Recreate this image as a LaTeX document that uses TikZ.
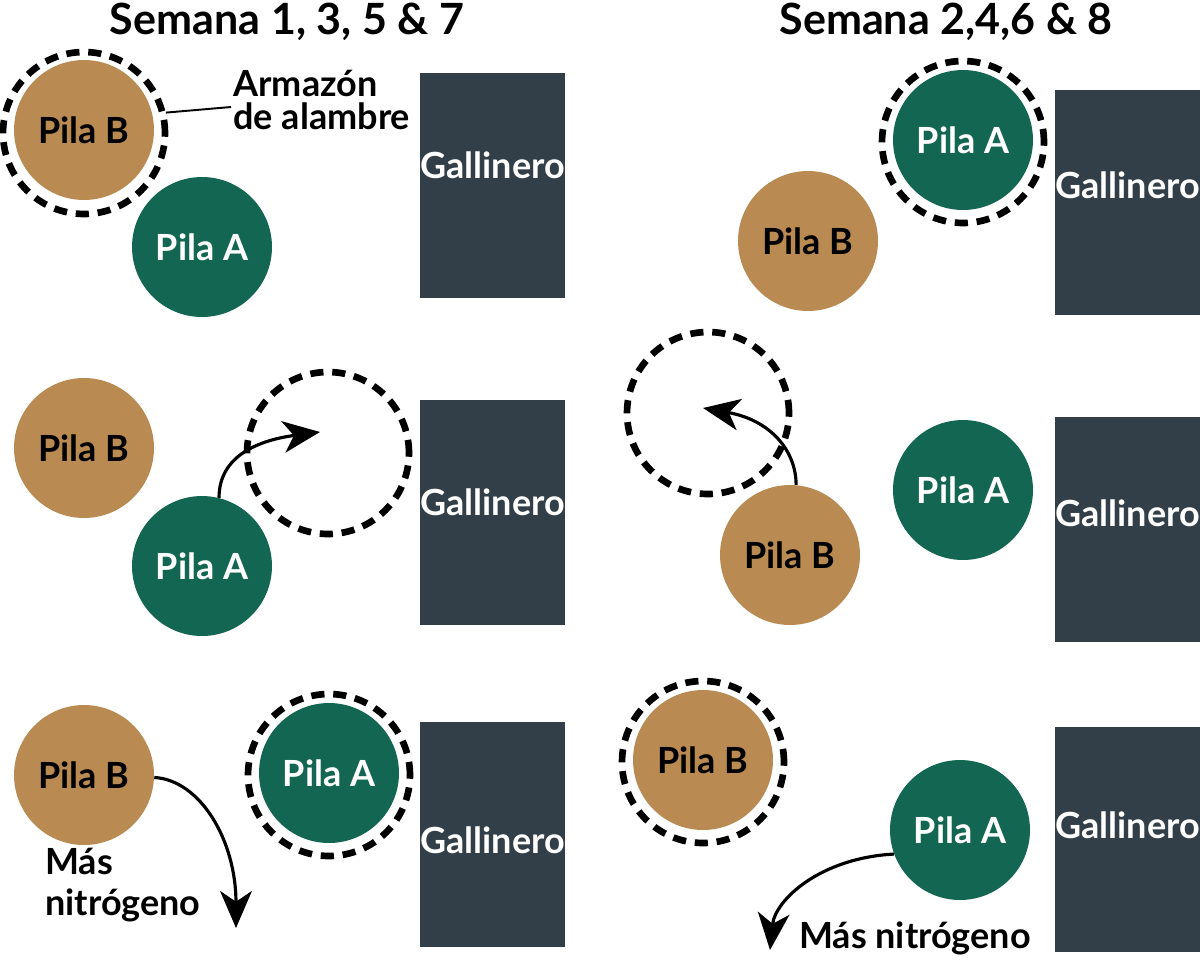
\documentclass[tikz,border=0pt]{standalone}
\usepackage{fontspec}
\setmainfont{Lato}
\usetikzlibrary{arrows.meta}
\definecolor{brownpile}{HTML}{B98A52}
\definecolor{greenpile}{HTML}{136651}
\definecolor{coop}{HTML}{333F48}
\begin{document}
\begin{tikzpicture}[x=0.02cm,y=-0.02cm,
  txt/.style={font=\fontsize{20.5}{23}\selectfont\bfseries},
  pileB/.style={circle,fill=brownpile,minimum size=2.8cm,inner sep=0pt,txt,text=black},
  pileA/.style={circle,fill=greenpile,minimum size=2.8cm,inner sep=0pt,txt,text=white},
  wire/.style={circle,draw=black,line width=3.8pt,dash pattern=on 7.5pt off 5pt,minimum size=3.24cm,inner sep=0pt},
  coopbox/.style={rectangle,fill=coop,minimum width=2.9cm,minimum height=4.5cm,inner sep=0pt},
  cooplabel/.style={txt,text=white,inner sep=0pt},
  arr/.style={line width=1.8pt,-{Stealth[length=21pt,width=18pt,inset=6pt]}},
  titletxt/.style={font=\fontsize{24.5}{28}\selectfont\bfseries},
  lbl/.style={txt,align=left,inner sep=0pt},
]
\useasboundingbox (0,0) rectangle (1200,965);

% titles
\node[titletxt] (t1) at (287,22) {Semana 1, 3, 5 \& 7};
\node[titletxt] (t2) at (946,22) {Semana 2,4,6 \& 8};

% ---------- panel 1 ----------
\node[coopbox,anchor=north west] (g1) at (420,73) {};
\node[cooplabel] (g1t) at (492.5,165) {Gallinero};
\node[wire] (w1) at (84,133) {};
\node[pileB] (b1) at (84,130) {Pila B};
\node[pileA] (a1) at (202,247) {Pila A};
\node[lbl,anchor=west] (arm) at (233,100) {Armazón\\[-4pt]de alambre};
\coordinate (armend) at (231,107);
\draw[line width=1.1pt] (w1.14) -- (armend);

% ---------- panel 2 ----------
\node[coopbox,anchor=north west] (g2) at (1055,90) {};
\node[cooplabel] (g2t) at (1127.5,185) {Gallinero};
\node[wire] (w2) at (963,142) {};
\node[pileA] (a2) at (963,140) {Pila A};
\node[pileB] (b2) at (808,241) {Pila B};

% ---------- panel 3 ----------
\node[coopbox,anchor=north west] (g3) at (420,400) {};
\node[cooplabel] (g3t) at (492.5,502) {Gallinero};
\node[pileB] (b3) at (84,448) {Pila B};
\node[pileA] (a3) at (202,566) {Pila A};
\node[wire] (w3) at (328,453) {};
\coordinate (t3) at (320,432);
\draw[arr] (a3.76) .. controls (219,455) and (260,440) .. (t3);

% ---------- panel 4 ----------
\node[coopbox,anchor=north west] (g4) at (1055,417) {};
\node[cooplabel] (g4t) at (1127.5,513) {Gallinero};
\node[wire] (w4) at (708,413) {};
\node[pileB] (b4) at (790,555) {Pila B};
\node[pileA] (a4) at (963,490) {Pila A};
\coordinate (t4) at (703,408);
\draw[arr] (b4.85) .. controls (796,450) and (770,420) .. (t4);

% ---------- panel 5 ----------
\node[coopbox,anchor=north west] (g5) at (420,722) {};
\node[cooplabel] (g5t) at (492.5,840) {Gallinero};
\node[pileB] (b5) at (84,775) {Pila B};
\node[wire] (w5) at (329,775) {};
\node[pileA] (a5) at (329,773) {Pila A};
\coordinate (t5) at (236,928);
\draw[arr] (b5.-2) .. controls (200,780) and (236,840) .. (t5);
\node[lbl,anchor=west] (n5) at (45,885) {Más\\[0pt]nitrógeno};

% ---------- panel 6 ----------
\node[coopbox,anchor=north west] (g6) at (1055,727) {};
\node[cooplabel] (g6t) at (1127.5,825) {Gallinero};
\node[wire] (w6) at (703,762) {};
\node[pileB] (b6) at (703,760) {Pila B};
\node[pileA] (a6) at (960,830) {Pila A};
\coordinate (t6) at (770,950);
\draw[arr] (a6.200) .. controls (820,858) and (775,900) .. (t6);
\node[txt] (n6) at (915,938) {Más nitrógeno};
\end{tikzpicture}
\end{document}
